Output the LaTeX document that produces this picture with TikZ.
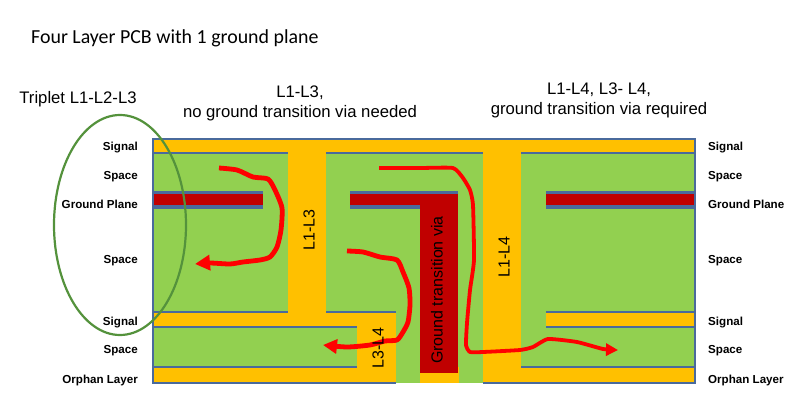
\documentclass[tikz,border=0pt]{standalone}
\usepackage{fontspec}
\setmainfont{Liberation Sans}
\newfontfamily\titlefont{Carlito}
\usetikzlibrary{arrows.meta, positioning}

\definecolor{boardgreen}{HTML}{92D050}
\definecolor{copper}{HTML}{FFC000}
\definecolor{groundred}{HTML}{C00000}
\definecolor{edgeblue}{HTML}{4A6A9C}
\definecolor{ringgreen}{HTML}{54923C}
\definecolor{tracered}{HTML}{FF0000}

\begin{document}
\begin{tikzpicture}[
    x=1pt, y=-1pt,
    copperfill/.style={fill=copper, draw=none},
    groundfill/.style={fill=groundred, draw=none},
    edge/.style={draw=edgeblue, line width=1.6pt},
    side/.style={font=\fontsize{11.6}{13}\selectfont\bfseries, inner sep=0pt},
    heading/.style={font=\fontsize{16.7}{19.5}\selectfont, align=center, inner sep=0pt},
    vialabel/.style={font=\fontsize{16}{18}\selectfont, rotate=90, inner sep=0pt},
    trace/.style={draw=tracered, line width=4.8pt, line join=round},
    tracethin/.style={draw=tracered, line width=3.8pt, line join=round}
]
    \useasboundingbox (0,0) rectangle (800,404);

    % board and copper
    \fill[boardgreen] (153,139) rectangle (695,383);
    \path[copperfill] (153,139) rectangle (695,153);
    \path[copperfill] (153,312) rectangle (396,327);
    \path[copperfill] (546,312) rectangle (695,327);
    \path[copperfill] (153,367) rectangle (396,383);
    \path[copperfill] (420,367) rectangle (459,383);
    \path[copperfill] (483,367) rectangle (695,383);
    \path[copperfill] (288,139) rectangle (326,327);
    \path[copperfill] (357,312) rectangle (396,383);
    \path[copperfill] (483,139) rectangle (521,383);

    % ground plane
    \fill[edgeblue] (153,191) rectangle (263,209);
    \fill[edgeblue] (350,191) rectangle (420,209);
    \fill[edgeblue] (420,191) rectangle (458,194);
    \fill[edgeblue] (546,191) rectangle (695,209);
    \path[groundfill] (153,193.5) rectangle (263,205);
    \path[groundfill] (350,193.5) rectangle (458,205);
    \path[groundfill] (546,193.5) rectangle (695,205);
    \path[groundfill] (420,193.5) rectangle (458,373);

    % layer edges
    \draw[edge] (396,383) -- (153,383) -- (153,139) -- (695,139) -- (695,383) -- (483,383);
    \draw[edge] (153,153) -- (288,153);
    \draw[edge] (326,153) -- (483,153);
    \draw[edge] (521,153) -- (695,153);
    \draw[edge] (153,312) -- (288,312);
    \draw[edge] (326,312) -- (396,312);
    \draw[edge] (153,327) -- (357,327);
    \draw[edge] (153,367) -- (357,367);
    \draw[edge] (546,312) -- (695,312);
    \draw[edge] (546,327) -- (695,327);
    \draw[edge] (521,367) -- (695,367);

    % triplet ring
    \draw[ringgreen, line width=2.2pt] (120,225) ellipse [x radius=66, y radius=110];

    % signal paths
    \draw[trace, -{Stealth[length=15pt, width=15pt, inset=0pt]}] plot[smooth, tension=0.4] coordinates {
        (219,168) (237,170) (253,177) (268,179) (275,190) (282,208) (281,230) (277,247)
        (270,257) (260,260) (243,262) (230,264) (210,263) (195,264)};
    \draw[trace, -{Stealth[length=14pt, width=14pt, inset=0pt]}] plot[smooth, tension=0.4] coordinates {
        (347,251) (363,252) (380,257) (397,260) (403,272) (409,288) (410,305) (408,322)
        (403,332) (397,340) (385,341) (370,345) (347,347) (323,345)};
    \draw[tracethin, -{Stealth[length=12pt, width=12pt, inset=0pt]}] plot[smooth, tension=0.3] coordinates {
        (379,168) (420,168) (453,168) (463,178) (470,190) (473,205) (474,260) (470,290)
        (467,323) (466,345) (470,352) (483,352) (520,350) (533,347) (548,339) (577,342)
        (603,349) (618,350)};

    % titles
    \node[font=\titlefont\fontsize{19.9}{24}\selectfont, anchor=west, inner sep=0pt] (title) at (31,38) {Four Layer PCB with 1 ground plane};
    \node[heading] (triplet) at (78,99) {Triplet L1-L2-L3};
    \node[heading] (headA) at (300,103.5) {L1-L3,\\no ground transition via needed};
    \node[heading] (headB) at (599,100.5) {L1-L4, L3- L4,\\ground transition via required};

    % via labels
    \node[vialabel] (viaA) at (309,230) {L1-L3};
    \node[vialabel] (viaB) at (504,257) {L1-L4};
    \node[vialabel] (viaG) at (437,290) {Ground transition via};
    \node[vialabel] (viaC) at (378,348) {L3-L4};

    % left stack labels
    \node[side, anchor=east] (leftA) at (138,147.5) {Signal};
    \node[side, anchor=east] (leftB) at (138,177) {Space};
    \node[side, anchor=east] (leftC) at (138,204.5) {Ground Plane};
    \node[side, anchor=east] (leftD) at (138,261) {Space};
    \node[side, anchor=east] (leftE) at (138,322.5) {Signal};
    \node[side, anchor=east] (leftF) at (138,351) {Space};
    \node[side, anchor=east] (leftG) at (138,380.5) {Orphan Layer};

    % right stack labels
    \node[side, anchor=west] (rightA) at (708,147.5) {Signal};
    \node[side, anchor=west] (rightB) at (708,177) {Space};
    \node[side, anchor=west] (rightC) at (708,204.5) {Ground Plane};
    \node[side, anchor=west] (rightD) at (708,261) {Space};
    \node[side, anchor=west] (rightE) at (708,322.5) {Signal};
    \node[side, anchor=west] (rightF) at (708,351) {Space};
    \node[side, anchor=west] (rightG) at (708,380.5) {Orphan Layer};
\end{tikzpicture}
\end{document}
